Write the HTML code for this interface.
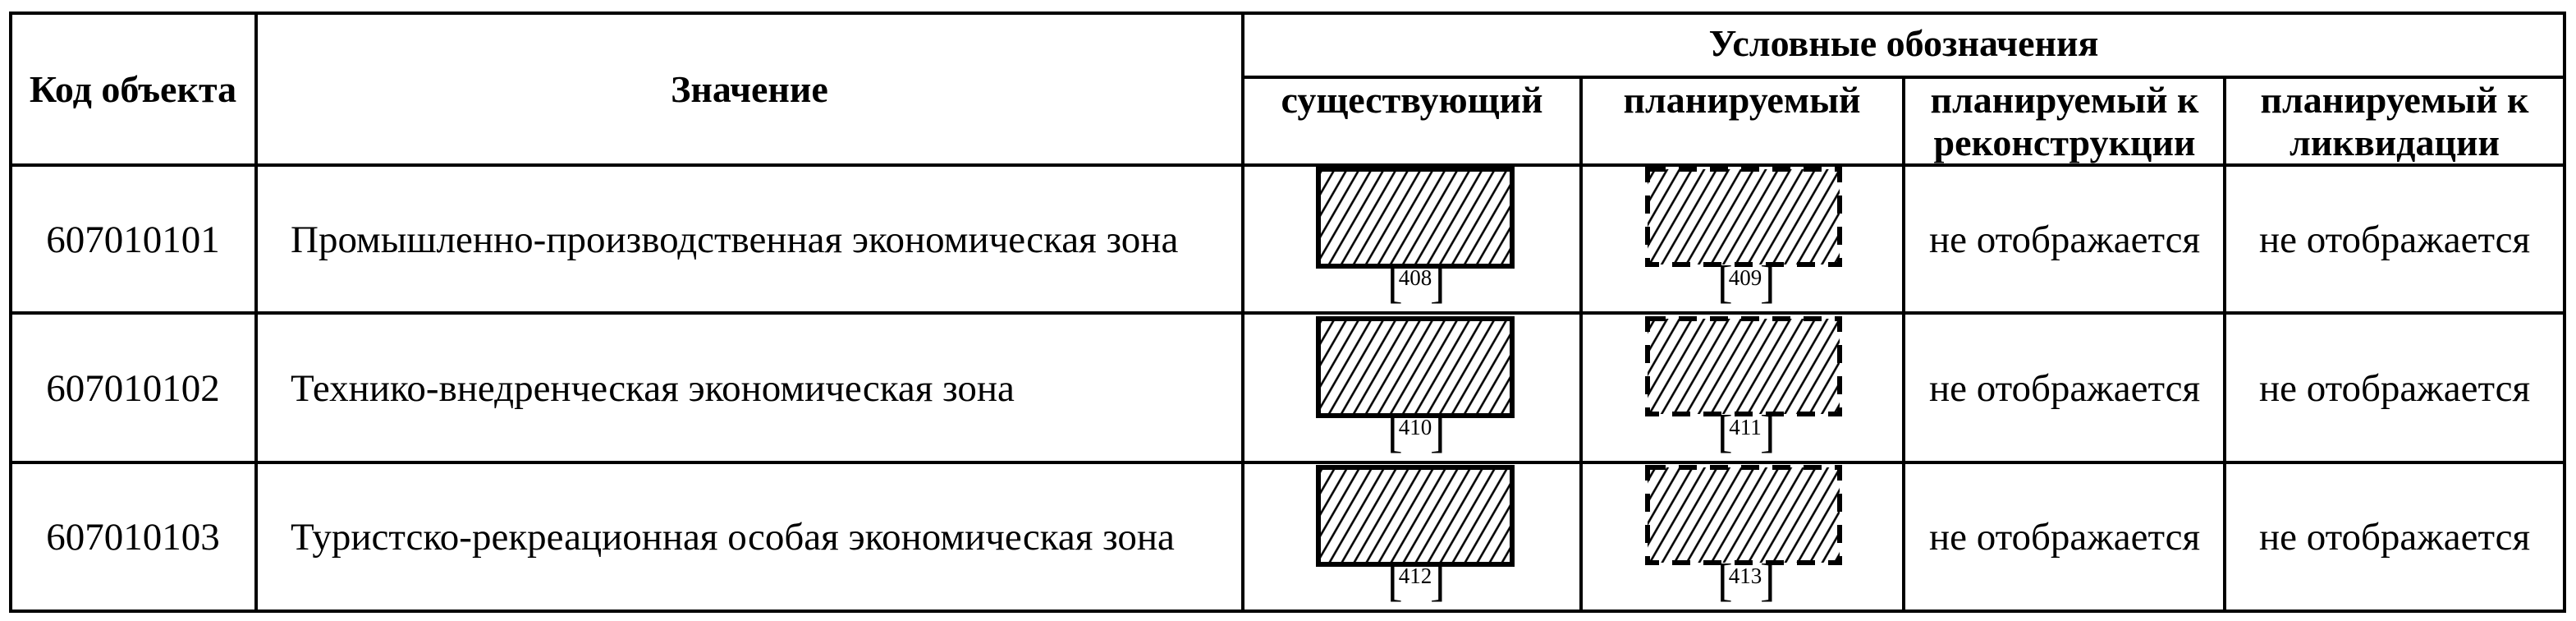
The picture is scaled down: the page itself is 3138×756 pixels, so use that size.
<!DOCTYPE html>
<html><head><meta charset="utf-8"><style>
html,body{margin:0;padding:0;background:#fff;}
svg{display:block;}
text{font-family:"Liberation Serif","Noto Serif CJK SC",serif;fill:#000;}
.h{font-weight:bold;font-size:46px;}
.b{font-size:47px;}
.n{font-size:27px;}
.br{font-size:56px;}
</style></head><body>
<svg width="3138" height="756" viewBox="0 0 3138 756" xmlns="http://www.w3.org/2000/svg">
<defs>
<pattern id="hatch" patternUnits="userSpaceOnUse" width="13" height="13" patternTransform="rotate(30)">
<line x1="3" y1="0" x2="3" y2="13" stroke="#000" stroke-width="2.6"/>
</pattern>
</defs>
<rect width="3138" height="756" fill="#fff"/>
<g stroke="#000" stroke-width="4" fill="none">
<rect x="13" y="16" width="3111" height="728"/>
<line x1="13" y1="201" x2="3124" y2="201"/>
<line x1="13" y1="381" x2="3124" y2="381"/>
<line x1="13" y1="563" x2="3124" y2="563"/>
<line x1="1514" y1="94" x2="3124" y2="94"/>
<line x1="312" y1="16" x2="312" y2="744"/>
<line x1="1514" y1="16" x2="1514" y2="744"/>
<line x1="1926" y1="94" x2="1926" y2="744"/>
<line x1="2319" y1="94" x2="2319" y2="744"/>
<line x1="2710" y1="94" x2="2710" y2="744"/>
</g>
<text class="h" x="162" y="124" text-anchor="middle">Код объекта</text>
<text class="h" x="913" y="124" text-anchor="middle">Значение</text>
<text class="h" x="2319" y="68" text-anchor="middle">Условные обозначения</text>
<text class="h" x="1720" y="137" text-anchor="middle">существующий</text>
<text class="h" x="2122" y="137" text-anchor="middle">планируемый</text>
<text class="h" x="2515" y="137" text-anchor="middle">планируемый к</text>
<text class="h" x="2515" y="189" text-anchor="middle">реконструкции</text>
<text class="h" x="2917" y="137" text-anchor="middle">планируемый к</text>
<text class="h" x="2917" y="189" text-anchor="middle">ликвидации</text>

<text class="b" x="162" y="307" text-anchor="middle">607010101</text>
<text class="b" x="162" y="488" text-anchor="middle">607010102</text>
<text class="b" x="162" y="669" text-anchor="middle">607010103</text>
<text class="b" x="354" y="307">Промышленно-производственная экономическая зона</text>
<text class="b" x="354" y="488">Технико-внедренческая экономическая зона</text>
<text class="b" x="354" y="669">Туристско-рекреационная особая экономическая зона</text>
<text class="b" x="2515" y="307" text-anchor="middle">не отображается</text>
<text class="b" x="2515" y="488" text-anchor="middle">не отображается</text>
<text class="b" x="2515" y="669" text-anchor="middle">не отображается</text>
<text class="b" x="2917" y="307" text-anchor="middle">не отображается</text>
<text class="b" x="2917" y="488" text-anchor="middle">не отображается</text>
<text class="b" x="2917" y="669" text-anchor="middle">не отображается</text>

<g stroke="#000" stroke-width="6" fill="url(#hatch)">
<rect x="1606" y="206" width="236" height="118"/>
<rect x="1606" y="388" width="236" height="118"/>
<rect x="1606" y="569" width="236" height="118"/>
</g>
<g stroke="#000" stroke-width="6" fill="url(#hatch)" stroke-dasharray="22 16">
<rect x="2007" y="206" width="234" height="116"/>
<rect x="2007" y="388" width="234" height="116"/>
<rect x="2007" y="569" width="234" height="116"/>
</g>

<g>
<text class="br" x="1690" y="362">[</text><text class="n" x="1724" y="347" text-anchor="middle">408</text><text class="br" x="1742" y="362">]</text>
<text class="br" x="2092" y="362">[</text><text class="n" x="2126" y="347" text-anchor="middle">409</text><text class="br" x="2144" y="362">]</text>
<text class="br" x="1690" y="544">[</text><text class="n" x="1724" y="529" text-anchor="middle">410</text><text class="br" x="1742" y="544">]</text>
<text class="br" x="2092" y="544">[</text><text class="n" x="2126" y="529" text-anchor="middle">411</text><text class="br" x="2144" y="544">]</text>
<text class="br" x="1690" y="725">[</text><text class="n" x="1724" y="710" text-anchor="middle">412</text><text class="br" x="1742" y="725">]</text>
<text class="br" x="2092" y="725">[</text><text class="n" x="2126" y="710" text-anchor="middle">413</text><text class="br" x="2144" y="725">]</text>
</g>
</svg>
</body></html>
